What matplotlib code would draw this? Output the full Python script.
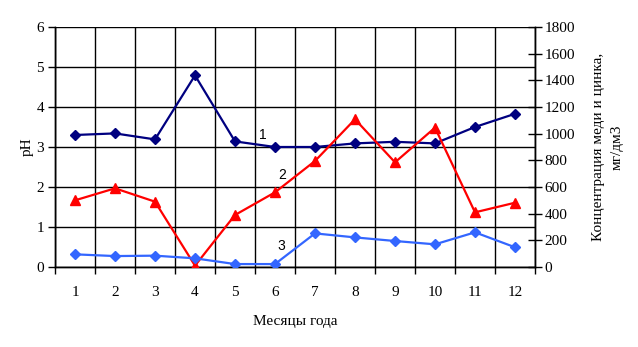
import numpy as np
import matplotlib.pyplot as plt

months = [1, 2, 3, 4, 5, 6, 7, 8, 9, 10, 11, 12]
ph = [3.3, 3.34, 3.19, 4.79, 3.14, 3.0, 3.0, 3.09, 3.13, 3.09, 3.5, 3.83]
conc_2 = [500, 590, 490, 10, 390, 560, 795, 1108, 785, 1045, 410, 482]
conc_3 = [95, 82, 85, 65, 22, 22, 252, 222, 195, 170, 260, 148]

plt.rcParams['font.family'] = ['Liberation Serif', 'DejaVu Serif']

fig = plt.figure(figsize=(6.38, 3.47), dpi=100)
ax = fig.add_axes([55 / 638, 1 - 267 / 347, 480 / 638, 240 / 347])
ax2 = ax.twinx()

x = np.arange(len(months))
ax.plot(x, ph, color='#000080', lw=1.6, marker='D', ms=5.5, zorder=3)
ax2.plot(x, conc_2, color='#ff0000', lw=1.6, marker='^', ms=7, zorder=3)
ax2.plot(x, conc_3, color='#3366ff', lw=1.6, marker='D', ms=5.5, zorder=3)

ax.set_xlim(-0.5, 11.5)
ax.set_ylim(0, 6)
ax2.set_ylim(0, 1800)

ax.set_xticks(x)
ax.set_xticklabels([str(m) for m in months])
ax.set_xticks(np.arange(-0.5, 12, 1), minor=True)
ax.tick_params(axis='x', which='major', length=0, pad=14, labelsize=11)
ax.tick_params(axis='x', which='minor', length=5, width=1, direction='out')
ax.set_yticks(range(7))
ax.tick_params(axis='y', length=5, width=1, direction='out', labelsize=11, pad=3)
ax2.set_yticks(range(0, 1801, 200))
ax2.tick_params(axis='y', length=10, width=1, direction='inout', labelsize=11, pad=2)

ax.grid(True, which='minor', axis='x', color='black', lw=1)
ax.grid(True, which='major', axis='y', color='black', lw=1)
ax.set_axisbelow(True)

for a in (ax, ax2):
    a.spines['top'].set_visible(False)
    for s in ('left', 'right', 'bottom'):
        a.spines[s].set_linewidth(1)

ax.set_ylabel('pH', fontsize=11, labelpad=2)
ax.set_xlabel('Месяцы года', fontsize=11, labelpad=11)
ax2.set_ylabel('Концентрация меди и цинка,\nмг/дм3', fontsize=11,
               labelpad=12, linespacing=1.6)

ax.text(4.7, 3.3, '1', family='Liberation Sans', fontsize=10, ha='center', va='center')
ax.text(5.18, 2.3, '2', family='Liberation Sans', fontsize=10, ha='center', va='center')
ax.text(5.15, 0.53, '3', family='Liberation Sans', fontsize=10, ha='center', va='center')

fig.savefig('out.png', dpi=100)
